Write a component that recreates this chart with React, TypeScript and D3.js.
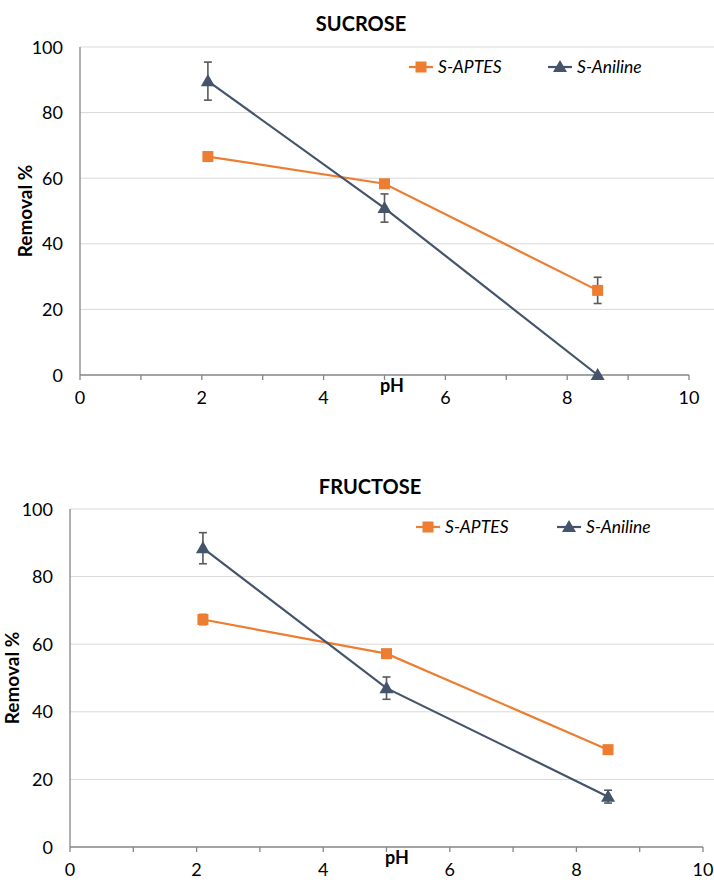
import React from "react";
import * as d3 from "d3";

// pH values at which removal was measured
const phValues = [2.1, 5, 8.5];

// Sucrose removal (%) and standard deviations
const sucroseAptes = [66.6, 58.3, 25.8];
const sucroseAptesErr = [1.0, 0.8, 4.0];
const sucroseAniline = [89.6, 50.9, 0];
const sucroseAnilineErr = [5.8, 4.3, 0];

// Fructose removal (%) and standard deviations
const fructoseAptes = [67.3, 57.2, 28.8];
const fructoseAptesErr = [1.5, 0.6, 0.5];
const fructoseAniline = [88.4, 47.0, 14.9];
const fructoseAnilineErr = [4.6, 3.3, 1.9];

const xTicks = [0, 2, 4, 6, 8, 10];
const xMinorTicks = [1, 3, 5, 7, 9];
const yTicks = [0, 20, 40, 60, 80, 100];
const seriesNames = ["S-APTES", "S-Aniline"];

const ORANGE = "#ED7D31";
const NAVY = "#44546A";
const GRID = "#D9D9D9";
const AXIS = "#868686";
const ERR = "#595959";
const FONT = "Lato, 'Open Sans', sans-serif";

type PanelProps = {
  title: string;
  aptes: number[];
  aptesErr: number[];
  aniline: number[];
  anilineErr: number[];
  left: number;
  right: number;
  top: number;
  bottom: number;
  titleX: number;
  titleY: number;
  yLabelX: number;
  xLabelY: number;
  xLabelX: number;
  legendX: number[];
  legendY: number;
};

function Panel(p: PanelProps) {
  const x = d3.scaleLinear().domain([0, 10]).range([p.left, p.right]);
  const y = d3.scaleLinear().domain([0, 100]).range([p.bottom, p.top]);
  const line = d3
    .line<number>()
    .x((_, i) => x(phValues[i]))
    .y((d) => y(d));
  const tri = d3.symbol().type(d3.symbolTriangle).size(85)() as string;

  const errorBars = (vals: number[], errs: number[]) =>
    vals.map((v, i) =>
      errs[i] > 0 ? (
        <g key={i} stroke={ERR} strokeWidth={1.6}>
          <line x1={x(phValues[i])} x2={x(phValues[i])} y1={y(v + errs[i])} y2={y(v - errs[i])} />
          <line x1={x(phValues[i]) - 4} x2={x(phValues[i]) + 4} y1={y(v + errs[i])} y2={y(v + errs[i])} />
          <line x1={x(phValues[i]) - 4} x2={x(phValues[i]) + 4} y1={y(v - errs[i])} y2={y(v - errs[i])} />
        </g>
      ) : null
    );

  return (
    <g>
      <text x={p.titleX} y={p.titleY} textAnchor="middle" fontFamily={FONT} fontWeight="bold" fontSize={20} fill="#000">
        {p.title}
      </text>
      {yTicks.slice(1).map((t) => (
        <line key={t} x1={p.left} x2={p.right + 28} y1={y(t)} y2={y(t)} stroke={GRID} strokeWidth={1} />
      ))}
      <line x1={p.left} x2={p.left} y1={p.top} y2={p.bottom} stroke={AXIS} strokeWidth={1.3} />
      <line x1={p.left} x2={p.right} y1={p.bottom} y2={p.bottom} stroke={AXIS} strokeWidth={1.3} />
      {[...xTicks, ...xMinorTicks].map((t) => (
        <line key={t} x1={x(t)} x2={x(t)} y1={p.bottom} y2={p.bottom + 5} stroke={AXIS} strokeWidth={1.3} />
      ))}
      {yTicks.map((t) => (
        <text key={t} x={p.left - 17} y={y(t) + 6.5} textAnchor="end" fontFamily={FONT} fontSize={18} fill="#000">
          {t}
        </text>
      ))}
      {xTicks.map((t) => (
        <text key={t} x={x(t)} y={p.bottom + 29} textAnchor="middle" fontFamily={FONT} fontSize={18} fill="#000">
          {t}
        </text>
      ))}
      <text x={p.xLabelX} y={p.xLabelY} textAnchor="middle" fontFamily={FONT} fontWeight="bold" fontSize={18} fill="#000">
        pH
      </text>
      <text
        transform={`translate(${p.yLabelX},${(p.top + p.bottom) / 2}) rotate(-90)`}
        textAnchor="middle"
        fontFamily={FONT}
        fontWeight="bold"
        fontSize={19}
        fill="#000"
      >
        Removal %
      </text>

      <path d={line(p.aptes) as string} fill="none" stroke={ORANGE} strokeWidth={2.2} />
      <path d={line(p.aniline) as string} fill="none" stroke={NAVY} strokeWidth={2.2} />
      {errorBars(p.aptes, p.aptesErr)}
      {errorBars(p.aniline, p.anilineErr)}
      {p.aptes.map((v, i) => (
        <rect key={i} x={x(phValues[i]) - 5.5} y={y(v) - 5.5} width={11} height={11} fill={ORANGE} />
      ))}
      {p.aniline.map((v, i) => (
        <path key={i} d={tri} transform={`translate(${x(phValues[i])},${y(v) + 1})`} fill={NAVY} />
      ))}

      {seriesNames.map((name, i) => {
        const lx = p.legendX[i];
        const color = i === 0 ? ORANGE : NAVY;
        return (
          <g key={name}>
            <line x1={lx} x2={lx + 24} y1={p.legendY} y2={p.legendY} stroke={color} strokeWidth={2.2} />
            {i === 0 ? (
              <rect x={lx + 6.5} y={p.legendY - 5.5} width={11} height={11} fill={color} />
            ) : (
              <path d={tri} transform={`translate(${lx + 12},${p.legendY + 1})`} fill={color} />
            )}
            <text x={lx + 29} y={p.legendY + 6} fontFamily={FONT} fontStyle="italic" fontSize={17.5} fill="#000">
              {name}
            </text>
          </g>
        );
      })}
    </g>
  );
}

export default function App() {
  return (
    <div style={{ position: "absolute", left: 0, top: 0 }}>
      <svg width={714} height={896} style={{ display: "block", background: "#fff" }}>
        <Panel
          title="SUCROSE"
          aptes={sucroseAptes}
          aptesErr={sucroseAptesErr}
          aniline={sucroseAniline}
          anilineErr={sucroseAnilineErr}
          left={80}
          right={689}
          top={47}
          bottom={375}
          titleX={361}
          titleY={31}
          yLabelX={32}
          xLabelX={392}
          xLabelY={392}
          legendX={[409, 548]}
          legendY={67}
        />
        <Panel
          title="FRUCTOSE"
          aptes={fructoseAptes}
          aptesErr={fructoseAptesErr}
          aniline={fructoseAniline}
          anilineErr={fructoseAnilineErr}
          left={70}
          right={703}
          top={509}
          bottom={847}
          titleX={370}
          titleY={494}
          yLabelX={19}
          xLabelX={397}
          xLabelY={864}
          legendX={[416, 557]}
          legendY={527}
        />
      </svg>
    </div>
  );
}
